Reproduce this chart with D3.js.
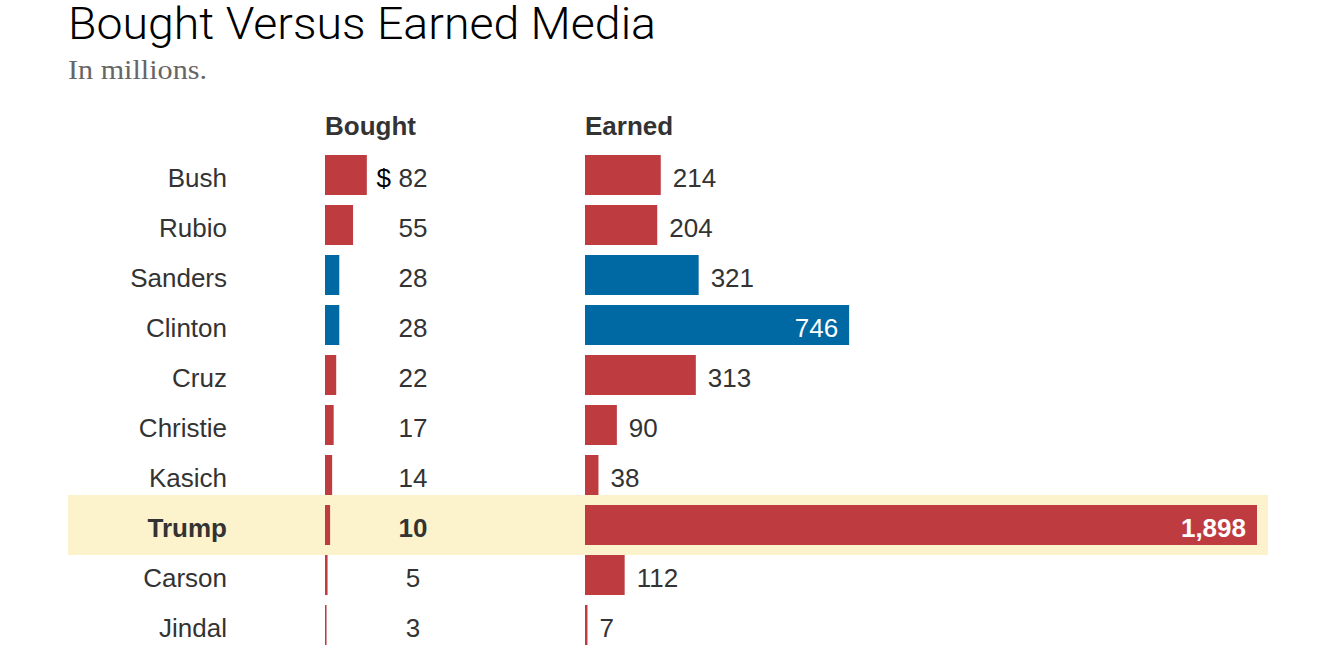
<!DOCTYPE html>
<html>
<head>
<meta charset="utf-8">
<script src="https://cdn.jsdelivr.net/npm/d3@7"></script>
<style>
  body { margin: 0; background: #fff; }
  text { font-family: "Liberation Sans", Arial, sans-serif; }
</style>
</head>
<body>
<div id="chart"></div>
<script>
/* DATA */
const candidates = ["Bush", "Rubio", "Sanders", "Clinton", "Cruz", "Christie", "Kasich", "Trump", "Carson", "Jindal"];
const bought = [82, 55, 28, 28, 22, 17, 14, 10, 5, 3];
const earned = [214, 204, 321, 746, 313, 90, 38, 1898, 112, 7];
const party = ["R", "R", "D", "D", "R", "R", "R", "R", "R", "R"];
const highlight = "Trump";

/* CONSTANTS */
const width = 1334, height = 646;
const colors = {R: "#be3b40", D: "#0068a3"};
const textColor = "#333";
const fontSize = "26px";

const rows = candidates.map((name, i) => ({
  name, bought: bought[i], earned: earned[i], party: party[i]
}));

const svg = d3.select("#chart")
  .append("svg")
    .attr("width", width)
    .attr("height", height);

/* SCALES */
const yScale = d3.scaleBand()
  .domain(candidates)
  .range([150, 650])
  .paddingInner(0.2)
  .paddingOuter(0.1);

const xBought = d3.scaleLinear()
  .domain([0, 100])
  .range([325, 376]);

const xEarned = d3.scaleLinear()
  .domain([0, 1898])
  .range([585, 1257]);

/* TITLE */
svg.append("text")
  .attr("x", 68)
  .attr("y", 39)
  .attr("textLength", 588)
  .attr("lengthAdjust", "spacingAndGlyphs")
  .style("font-family", "Roboto, sans-serif")
  .style("font-weight", 300)
  .style("font-size", "45px")
  .style("fill", "#000")
  .text("Bought Versus Earned Media");

svg.append("text")
  .attr("x", 68)
  .attr("y", 79)
  .attr("textLength", 139)
  .attr("lengthAdjust", "spacingAndGlyphs")
  .style("font-family", "'Liberation Serif', serif")
  .style("font-size", "28px")
  .style("fill", "#666")
  .text("In millions.");

/* HIGHLIGHT BAND */
svg.append("rect")
  .attr("x", 68)
  .attr("y", yScale(highlight) - 10)
  .attr("width", 1268 - 68)
  .attr("height", yScale.bandwidth() + 20)
  .style("fill", "#fcf2cc");

/* COLUMN HEADERS */
svg.selectAll(".header")
  .data([["Bought", xBought(0)], ["Earned", xEarned(0)]])
  .join("text")
    .attr("class", "header")
    .attr("x", d => d[1])
    .attr("y", 135)
    .style("font-size", fontSize)
    .style("font-weight", "bold")
    .style("fill", textColor)
    .text(d => d[0]);

const baseline = d => yScale(d.name) + yScale.bandwidth() / 2 + 12;
const weight = d => d.name === highlight ? "bold" : "normal";

/* NAMES */
svg.selectAll(".name")
  .data(rows)
  .join("text")
    .attr("class", "name")
    .attr("x", 227)
    .attr("y", baseline)
    .attr("text-anchor", "end")
    .style("font-size", fontSize)
    .style("font-weight", weight)
    .style("fill", textColor)
    .text(d => d.name);

/* BOUGHT BARS */
svg.selectAll(".bought")
  .data(rows)
  .join("rect")
    .attr("class", "bought")
    .attr("x", xBought(0))
    .attr("y", d => yScale(d.name))
    .attr("width", d => xBought(d.bought) - xBought(0))
    .attr("height", yScale.bandwidth())
    .style("fill", d => colors[d.party]);

svg.selectAll(".bought-label")
  .data(rows)
  .join("text")
    .attr("class", "bought-label")
    .attr("x", 413)
    .attr("y", baseline)
    .attr("text-anchor", "middle")
    .style("font-size", fontSize)
    .style("font-weight", weight)
    .style("fill", textColor)
    .text(d => d.bought);

/* dollar sign on the first row only */
svg.append("text")
  .datum(rows[0])
  .attr("x", 391)
  .attr("y", baseline)
  .attr("text-anchor", "end")
  .style("font-size", fontSize)
  .style("fill", "#000")
  .text("$");

/* EARNED BARS */
svg.selectAll(".earned")
  .data(rows)
  .join("rect")
    .attr("class", "earned")
    .attr("x", xEarned(0))
    .attr("y", d => yScale(d.name))
    .attr("width", d => xEarned(d.earned) - xEarned(0))
    .attr("height", yScale.bandwidth())
    .style("fill", d => colors[d.party]);

const inside = d => xEarned(d.earned) - xEarned(0) > 200;

svg.selectAll(".earned-label")
  .data(rows)
  .join("text")
    .attr("class", "earned-label")
    .attr("x", d => inside(d) ? xEarned(d.earned) - 11 : xEarned(d.earned) + 12)
    .attr("y", baseline)
    .attr("text-anchor", d => inside(d) ? "end" : "start")
    .style("font-size", fontSize)
    .style("font-weight", weight)
    .style("fill", d => inside(d) ? "#fff" : textColor)
    .text(d => d3.format(",")(d.earned));
</script>
</body>
</html>
